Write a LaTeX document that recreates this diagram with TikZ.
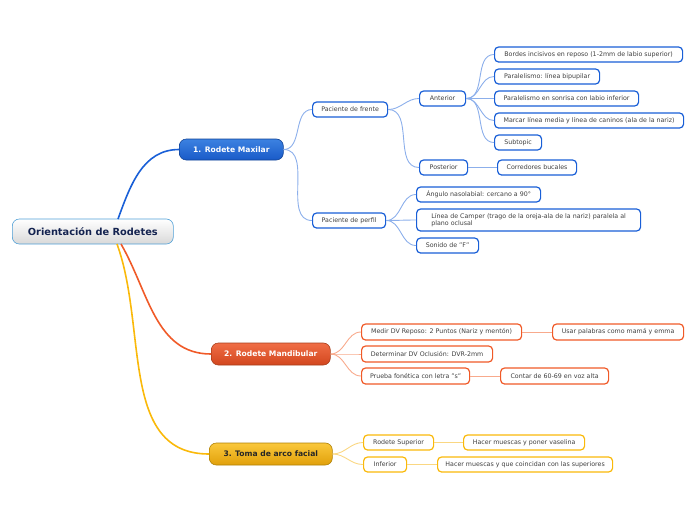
\documentclass[tikz,border=0pt]{standalone}
\usepackage{fontspec}
\setmainfont{DejaVu Sans}

\definecolor{azul}{RGB}{25,95,215}
\definecolor{azulclaro}{RGB}{140,175,235}
\definecolor{azularriba}{RGB}{60,130,225}
\definecolor{azulabajo}{RGB}{25,90,200}
\definecolor{naranja}{RGB}{240,90,40}
\definecolor{naranjaclaro}{RGB}{248,170,140}
\definecolor{naranjaarriba}{RGB}{240,110,70}
\definecolor{naranjaabajo}{RGB}{210,70,30}
\definecolor{amarillo}{RGB}{250,185,10}
\definecolor{amarilloclaro}{RGB}{250,215,130}
\definecolor{amarilloarriba}{RGB}{250,200,60}
\definecolor{amarilloabajo}{RGB}{225,160,10}
\definecolor{raizborde}{RGB}{80,160,215}
\definecolor{raiztexto}{RGB}{20,35,80}

\begin{document}
\begin{tikzpicture}[x=1pt, y=-1pt,
  hoja/.style={draw, line width=1.2pt, rounded corners=4pt, fill=white, anchor=west,
    font=\fontsize{6.3}{7.3}\selectfont, text=black!75, minimum height=15pt, inner xsep=2pt},
  rama/.style={rounded corners=7pt, line width=0.6pt, anchor=west, minimum height=22pt,
    font=\bfseries\fontsize{7.6}{8.5}\selectfont},
  enlace/.style={line width=0.9pt},
  tronco/.style={line width=1.6pt}]

\useasboundingbox (0,0) rectangle (696,520);

% raiz
\node[rama, top color=white, bottom color=gray!30, draw=raizborde, text=raiztexto,
  minimum width=161, minimum height=25, font=\bfseries\fontsize{9.8}{11}\selectfont]
  (raiz) at (12,231.5) {Orientación de Rodetes};

% ramas principales
\node[rama, top color=azularriba, bottom color=azulabajo, draw=azul!70!black, text=white,
  minimum width=104, minimum height=21] (maxilar) at (179,149.5) {1. Rodete Maxilar};
\node[rama, top color=naranjaarriba, bottom color=naranjaabajo, draw=naranja!70!black, text=white,
  minimum width=119] (mandibular) at (211,354) {2. Rodete Mandibular};
\node[rama, top color=amarilloarriba, bottom color=amarilloabajo, draw=amarillo!70!black, text=black!85,
  minimum width=123] (arco) at (209,454) {3. Toma de arco facial};

\coordinate (salidaA) at (118,219);
\coordinate (salidaB) at (121,244);
\coordinate (salidaC) at (117,244);

\draw[tronco, azul] (salidaA) to[out=70,in=180] (maxilar.west);
\draw[tronco, naranja] (salidaB) to[out=-60,in=180] (mandibular.west);
\draw[tronco, amarillo] (salidaC) to[out=-70,in=180] (arco.west);

% 1. Rodete Maxilar
\begin{scope}[every node/.style={hoja, draw=azul}]
\node[minimum width=75] (frente) at (312,109.5) {Paciente de frente};
\node[minimum width=73] (perfil) at (312,220.5) {Paciente de perfil};
\node[minimum width=46] (anterior) at (419,98.5) {Anterior};
\node[minimum width=48] (posterior) at (419,167.5) {Posterior};
\node[minimum width=188] (bordes) at (494,54.5) {Bordes incisivos en reposo (1-2mm de labio superior)};
\node[minimum width=105] (bipupilar) at (494,76.5) {Paralelismo: línea bipupilar};
\node[minimum width=144] (sonrisa) at (494,98.5) {Paralelismo en sonrisa con labio inferior};
\node[minimum width=189] (marcar) at (494,120.5) {Marcar línea media y línea de caninos (ala de la nariz)};
\node[minimum width=47] (subtopic) at (494,142.5) {Subtopic};
\node[minimum width=79] (corredores) at (497,167.5) {Corredores bucales};
\node[minimum width=124] (angulo) at (416,194.5) {Ángulo nasolabial: cercano a 90°};
\node[minimum width=224, minimum height=22, align=left] (camper) at (416,220)
  {Línea de Camper (trago de la oreja-ala de la nariz) paralela al\\plano oclusal};
\node[minimum width=62] (sonido) at (416,245.5) {Sonido de "F"};
\end{scope}

\begin{scope}[enlace, azulclaro]
\draw (maxilar.east) to[out=0,in=180] (frente.west);
\draw (maxilar.east) to[out=0,in=180] (perfil.west);
\draw (frente.east) to[out=0,in=180] (anterior.west);
\draw (frente.east) to[out=0,in=180] (posterior.west);
\foreach \hijo in {bordes,bipupilar,sonrisa,marcar,subtopic}
  \draw (anterior.east) to[out=0,in=180] (\hijo.west);
\draw (posterior.east) -- (corredores.west);
\foreach \hijo in {angulo,camper,sonido}
  \draw (perfil.east) to[out=0,in=180] (\hijo.west);
\end{scope}

% 2. Rodete Mandibular
\begin{scope}[every node/.style={hoja, draw=naranja, minimum height=16pt}]
\node[minimum width=160] (medir) at (361,332) {Medir DV Reposo: 2 Puntos (Nariz y mentón)};
\node[minimum width=131] (determinar) at (361,354) {Determinar DV Oclusión: DVR-2mm};
\node[minimum width=108] (prueba) at (361,376) {Prueba fonética con letra "s"};
\node[minimum width=131] (usar) at (552,332) {Usar palabras como mamá y emma};
\node[minimum width=108] (contar) at (500,376) {Contar de 60-69 en voz alta};
\end{scope}

\begin{scope}[enlace, naranjaclaro]
\foreach \hijo in {medir,determinar,prueba}
  \draw (mandibular.east) to[out=0,in=180] (\hijo.west);
\draw (medir.east) -- (usar.west);
\draw (prueba.east) -- (contar.west);
\end{scope}

% 3. Toma de arco facial
\begin{scope}[every node/.style={hoja, draw=amarillo}]
\node[minimum width=70] (superior) at (363,442.5) {Rodete Superior};
\node[minimum width=43] (inferior) at (363,464.5) {Inferior};
\node[minimum width=121] (vaselina) at (463,442.5) {Hacer muescas y poner vaselina};
\node[minimum width=175] (coincidan) at (437,464.5) {Hacer muescas y que coincidan con las superiores};
\end{scope}

\begin{scope}[enlace, amarilloclaro]
\foreach \hijo in {superior,inferior}
  \draw (arco.east) to[out=0,in=180] (\hijo.west);
\draw (superior.east) -- (vaselina.west);
\draw (inferior.east) -- (coincidan.west);
\end{scope}

\end{tikzpicture}
\end{document}
